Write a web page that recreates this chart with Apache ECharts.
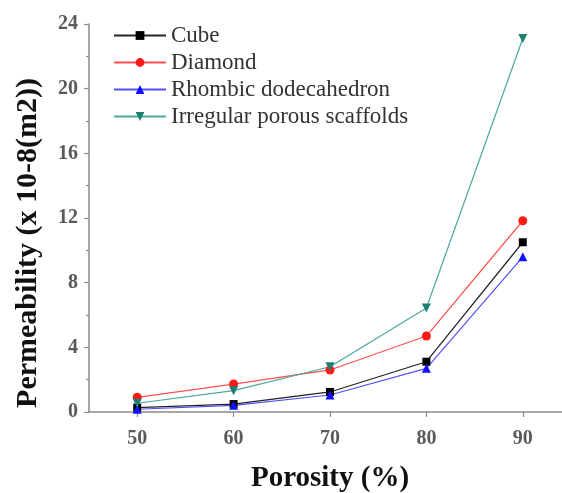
<!DOCTYPE html>
<html lang="en" style="height: 100%">
  <head>
    <meta charset="utf-8" />
  </head>
  <body style="height: 100%; margin: 0; background: #fff">
    <div id="container" style="width: 562px; height: 493px"></div>

    <script
      type="text/javascript"
      src="https://fastly.jsdelivr.net/npm/echarts@6.0.0/dist/echarts.min.js"
    ></script>
    <script type="text/javascript">
      // porosity (%) on x
      const porosity = [50, 60, 70, 80, 90];
      const xTicks = [50, 60, 70, 80, 90];
      // permeability, x 10-8 m2
      const cube = [0.27, 0.49, 1.24, 3.11, 10.5];
      const diamond = [0.91, 1.73, 2.6, 4.7, 11.83];
      const rhombic = [0.17, 0.41, 1.05, 2.7, 9.6];
      const irregular = [0.54, 1.32, 2.8, 6.43, 23.1];

      const serif = "Liberation Serif";
      const axisGray = "#8a8a8a";

      function pairs(values) {
        return porosity.map((p, i) => [p, values[i]]);
      }

      var dom = document.getElementById("container");
      var myChart = echarts.init(dom, null, { renderer: "canvas" });

      var option = {
        backgroundColor: "#fff",
        animation: false,
        textStyle: { fontFamily: serif },
        grid: {
          left: 89,
          top: 24,
          bottom: 81,
          width: 482,
          containLabel: false,
          outerBoundsMode: "none",
        },
        legend: {
          orient: "vertical",
          left: 113,
          top: 24,
          padding: 0,
          itemWidth: 52,
          itemHeight: 11,
          itemGap: 4,
          textStyle: {
            fontFamily: serif,
            fontSize: 23,
            lineHeight: 23,
            color: "#333",
          },
        },
        xAxis: {
          type: "value",
          min: 45,
          max: 95,
          name: "Porosity (%)",
          nameLocation: "middle",
          nameGap: 52,
          nameTextStyle: {
            fontFamily: serif,
            fontSize: 29,
            fontWeight: "bold",
            color: "#111",
          },
          axisLine: { lineStyle: { color: axisGray, width: 1.5 } },
          axisTick: {
            length: 5,
            customValues: xTicks,
            lineStyle: { color: axisGray, width: 1.2 },
          },
          axisLabel: {
            customValues: xTicks,
            margin: 17,
            fontFamily: serif,
            fontSize: 20,
            fontWeight: "bold",
            color: "#5a5a5a",
          },
          splitLine: { show: false },
        },
        yAxis: {
          type: "value",
          min: 0,
          max: 24,
          interval: 4,
          name: "Permeability (x 10-8(m2))",
          nameLocation: "middle",
          nameGap: 46,
          nameTextStyle: {
            fontFamily: serif,
            fontSize: 30,
            fontWeight: "bold",
            color: "#111",
            padding: [0, 50, 0, 0],
          },
          axisLine: { show: true, lineStyle: { color: axisGray, width: 1.5 } },
          axisTick: {
            show: true,
            length: 5,
            lineStyle: { color: axisGray, width: 1.2 },
          },
          minorTick: {
            show: true,
            splitNumber: 2,
            length: 3,
            lineStyle: { color: axisGray, width: 1.2 },
          },
          axisLabel: {
            margin: 11,
            fontFamily: serif,
            fontSize: 20,
            fontWeight: "bold",
            color: "#5a5a5a",
          },
          splitLine: { show: false },
        },
        series: [
          {
            name: "Cube",
            type: "line",
            data: pairs(cube),
            symbol: "rect",
            symbolSize: 8,
            lineStyle: { color: "#222", width: 1.2 },
            itemStyle: { color: "#000" },
          },
          {
            name: "Diamond",
            type: "line",
            data: pairs(diamond),
            symbol: "circle",
            symbolSize: 9,
            lineStyle: { color: "#ff5050", width: 1.2 },
            itemStyle: { color: "#ff1a1a" },
          },
          {
            name: "Rhombic dodecahedron",
            type: "line",
            data: pairs(rhombic),
            symbol: "triangle",
            symbolSize: 9,
            lineStyle: { color: "#5050ff", width: 1.2 },
            itemStyle: { color: "#1010ff" },
          },
          {
            name: "Irregular porous scaffolds",
            type: "line",
            data: pairs(irregular),
            symbol: "triangle",
            symbolRotate: 180,
            symbolSize: 9,
            lineStyle: { color: "#4aa89e", width: 1.2 },
            itemStyle: { color: "#1c7f74" },
          },
        ],
      };

      myChart.setOption(option);
      window.addEventListener("resize", myChart.resize);
    </script>
  </body>
</html>
